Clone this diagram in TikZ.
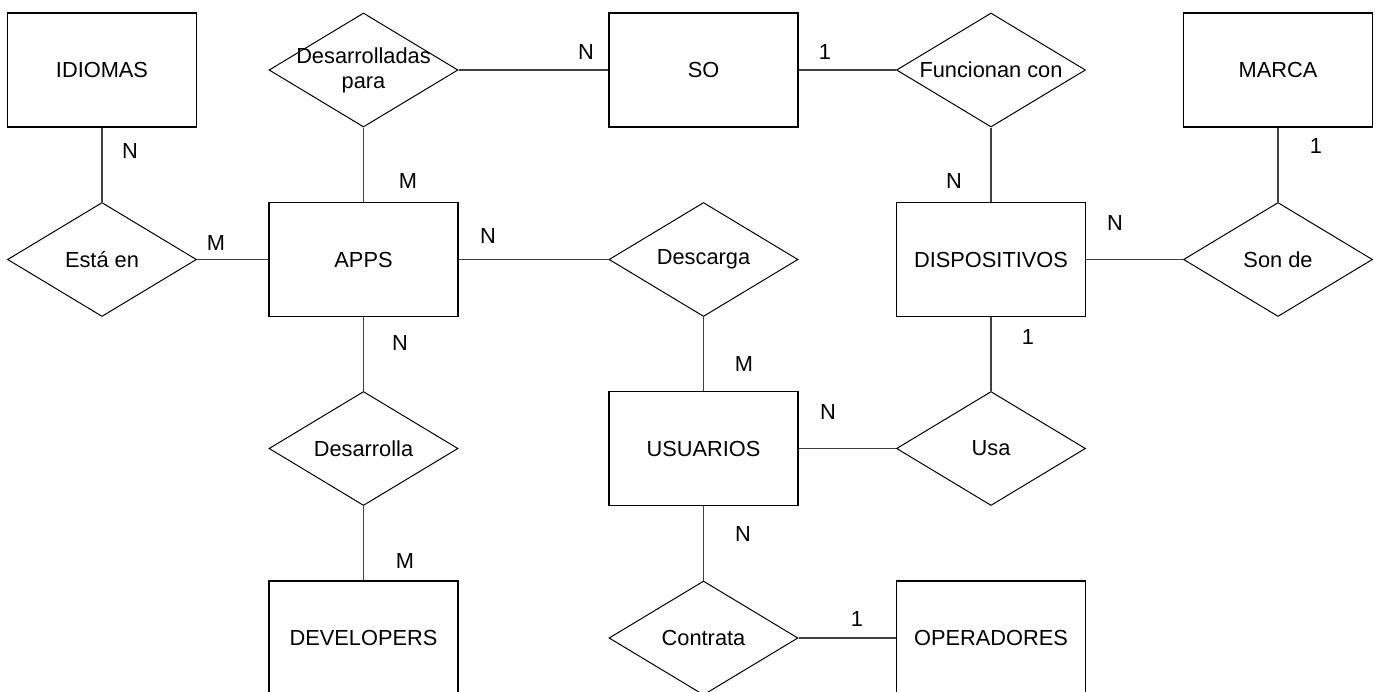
\documentclass[tikz,border=0pt]{standalone}
\usepackage{fontspec}
\setmainfont{Liberation Sans}
\usetikzlibrary{shapes.geometric}
\begin{document}
\begin{tikzpicture}[x=0.5pt,y=-0.5pt,
  font=\fontsize{10.9}{12.5}\selectfont,
  ent/.style={draw=black, line width=0.6pt, rectangle, minimum width=94.5pt, minimum height=57pt, inner sep=0pt},
  rel/.style={draw=black, line width=0.5pt, diamond, minimum width=94.5pt, minimum height=57pt, inner sep=0pt},
  card/.style={inner sep=0pt},
  conn/.style={draw=black!75, line width=0.6pt}]
\useasboundingbox (0,0) rectangle (1376,691);
% entities
\node[ent] (idiomas) at (102,70) {IDIOMAS};
\node[ent] (so) at (703.5,70) {SO};
\node[ent] (marca) at (1278,70) {MARCA};
\node[ent] (apps) at (363.5,259.5) {APPS};
\node[ent] (disp) at (991,259.5) {DISPOSITIVOS};
\node[ent] (usu) at (703.5,448.5) {USUARIOS};
\node[ent] (dev) at (363.5,638) {DEVELOPERS};
\node[ent] (oper) at (991,638) {OPERADORES};
% relationships
\node[rel, label={[align=center]center:Desarrolladas\\para}] (despara) at (363.5,70) {};
\node[rel, label={center:Funcionan con}] (func) at (991,70) {};
\node[rel, label={center:Está en}] (esta) at (102,259.5) {};
\node[rel, label={center:Descarga}] (desc) at (703.5,259.5) {};
\node[rel, label={center:Son de}] (sonde) at (1278,259.5) {};
\node[rel, label={center:Desarrolla}] (desa) at (363.5,448.5) {};
\node[rel, label={center:Usa}] (usa) at (991,448.5) {};
\node[rel, label={center:Contrata}] (contr) at (703.5,638) {};
% connectors
\draw[conn] (idiomas.south) -- (esta.north);
\draw[conn] (esta.east) -- (apps.west);
\draw[conn] (despara.south) -- (apps.north);
\draw[conn] (despara.east) -- (so.west);
\draw[conn] (so.east) -- (func.west);
\draw[conn] (func.south) -- (disp.north);
\draw[conn] (marca.south) -- (sonde.north);
\draw[conn] (disp.east) -- (sonde.west);
\draw[conn] (apps.east) -- (desc.west);
\draw[conn] (desc.south) -- (usu.north);
\draw[conn] (apps.south) -- (desa.north);
\draw[conn] (desa.south) -- (dev.north);
\draw[conn] (disp.south) -- (usa.north);
\draw[conn] (usu.east) -- (usa.west);
\draw[conn] (usu.south) -- (contr.north);
\draw[conn] (contr.east) -- (oper.west);
% cardinalities
\node[card] (c1) at (130,151) {N};
\node[card] (c2) at (216,243) {M};
\node[card] (c3) at (408,181) {M};
\node[card] (c4) at (586,52) {N};
\node[card] (c5) at (825,52) {1};
\node[card] (c6) at (488,236) {N};
\node[card] (c7) at (954,181) {N};
\node[card] (c8) at (1316,146) {1};
\node[card] (c9) at (1115,223) {N};
\node[card] (c10) at (400,343) {N};
\node[card] (c11) at (744,364) {M};
\node[card] (c12) at (1028,337) {1};
\node[card] (c13) at (828,412) {N};
\node[card] (c14) at (743,534) {N};
\node[card] (c15) at (405,561) {M};
\node[card] (c16) at (857,619) {1};
\end{tikzpicture}
\end{document}
